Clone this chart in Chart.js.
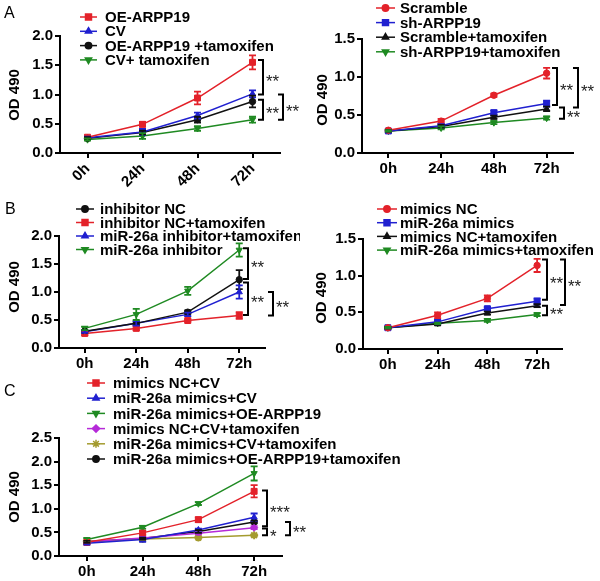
<!DOCTYPE html>
<html lang="en">
<head>
<meta charset="UTF-8">
<title>OD 490 time course</title>
<script src="https://cdn.jsdelivr.net/npm/chart.js"></script>
<style>
    body { margin: 0; background: #fff; }
    #wrap { position: relative; width: 600px; height: 581px; overflow: hidden; }
    canvas { position: absolute; }
</style>
</head>
<body>
<div id="wrap">
    <canvas id="cA1" style="left:0;top:0" width="300" height="190"></canvas>
    <canvas id="cA2" style="left:300px;top:0" width="300" height="190"></canvas>
    <canvas id="cB1" style="left:0;top:190px" width="300" height="182"></canvas>
    <canvas id="cB2" style="left:300px;top:190px" width="300" height="182"></canvas>
    <canvas id="cC" style="left:0;top:372px" width="600" height="209"></canvas>
</div>
<script>
// ---- data ----
const hours = ['0h', '24h', '48h', '72h'];

// panel A left
const a1Labels = ['OE-ARPP19', 'CV', 'OE-ARPP19 +tamoxifen', 'CV+ tamoxifen'];
const a1Means = [
    [0.27, 0.49, 0.94, 1.55],
    [0.26, 0.36, 0.64, 1.01],
    [0.25, 0.35, 0.57, 0.88],
    [0.23, 0.29, 0.42, 0.57]
];
const a1Errors = [
    [0.02, 0.04, 0.11, 0.12],
    [0.02, 0.05, 0.05, 0.06],
    [0.02, 0.03, 0.05, 0.10],
    [0.02, 0.05, 0.04, 0.05]
];
const a1Sig = [[1.59, 1.0, '**'], [0.91, 0.57, '**'], [1.0, 0.57, '**']];

// panel A right
const a2Labels = ['Scramble', 'sh-ARPP19', 'Scramble+tamoxifen', 'sh-ARPP19+tamoxifen'];
const a2Means = [
    [0.30, 0.42, 0.76, 1.05],
    [0.29, 0.36, 0.53, 0.65],
    [0.29, 0.35, 0.47, 0.58],
    [0.29, 0.33, 0.40, 0.46]
];
const a2Errors = [
    [0.01, 0.03, 0.02, 0.07],
    [0.01, 0.02, 0.03, 0.04],
    [0.01, 0.02, 0.02, 0.03],
    [0.01, 0.02, 0.02, 0.02]
];
const a2Sig = [[1.12, 0.63, '**'], [1.12, 0.60, '**'], [0.60, 0.45, '**']];

// panel B left
const b1Labels = ['inhibitor NC', 'inhibitor NC+tamoxifen', 'miR-26a inhibitor+tamoxifen', 'miR-26a inhibitor'];
const b1Means = [
    [0.30, 0.44, 0.64, 1.22],
    [0.26, 0.35, 0.49, 0.58],
    [0.29, 0.44, 0.60, 1.00],
    [0.35, 0.60, 1.02, 1.75]
];
const b1Errors = [
    [0.02, 0.03, 0.03, 0.17],
    [0.03, 0.03, 0.02, 0.06],
    [0.02, 0.04, 0.03, 0.12],
    [0.03, 0.10, 0.07, 0.12]
];
const b1Sig = [[1.78, 1.23, '**'], [1.17, 0.59, '**'], [1.0, 0.58, '**']];

// panel B right
const b2Labels = ['mimics NC', 'miR-26a mimics', 'mimics NC+tamoxifen', 'miR-26a mimics+tamoxifen'];
const b2Means = [
    [0.29, 0.46, 0.69, 1.14],
    [0.29, 0.37, 0.55, 0.65],
    [0.29, 0.34, 0.49, 0.59],
    [0.29, 0.35, 0.39, 0.47]
];
const b2Errors = [
    [0.01, 0.04, 0.04, 0.09],
    [0.01, 0.02, 0.02, 0.04],
    [0.01, 0.01, 0.02, 0.02],
    [0.01, 0.01, 0.02, 0.02]
];
const b2Sig = [[1.22, 0.67, '**'], [1.22, 0.60, '**'], [0.59, 0.46, '**']];

// panel C
const cLabels = ['mimics NC+CV', 'miR-26a mimics+CV', 'miR-26a mimics+OE-ARPP19',
    'mimics NC+CV+tamoxifen', 'miR-26a mimics+CV+tamoxifen', 'miR-26a mimics+OE-ARPP19+tamoxifen'];
const cMeans = [
    [0.29, 0.49, 0.77, 1.37],
    [0.27, 0.35, 0.55, 0.82],
    [0.35, 0.61, 1.11, 1.75],
    [0.30, 0.38, 0.48, 0.60],
    [0.31, 0.36, 0.39, 0.44],
    [0.30, 0.37, 0.52, 0.72]
];
const cErrors = [
    [0.03, 0.04, 0.05, 0.13],
    [0.03, 0.05, 0.03, 0.08],
    [0.03, 0.03, 0.03, 0.15],
    [0.02, 0.02, 0.02, 0.03],
    [0.01, 0.02, 0.02, 0.02],
    [0.02, 0.02, 0.03, 0.03]
];
const cSig = [[1.39, 0.63, '***'], [0.58, 0.44, '*'], [0.72, 0.44, '**']];

// ---- styles ----
const FONT = "'Liberation Sans', Arial, sans-serif";
const RED = '#e3222a', BLUE = '#2020d0', BLACK = '#111111', GREEN = '#1f8a22',
      PURPLE = '#b52ad8', OLIVE = '#a49b2f';
const TRI_DOWN = ['triangle', 180];
const RADIUS = { rect: 4.2, circle: 3.2, triangle: 3.6, rectRot: 3.6, star: 4 };

// draws error bars, legend, brackets, panel letter and y title
const decor = {
    id: 'decor',
    afterDatasetsDraw(chart, args, o) {
        const ctx = chart.ctx, y = chart.scales.y;
        ctx.save();
        chart.data.datasets.forEach((ds, di) => {
            const meta = chart.getDatasetMeta(di);
            ctx.strokeStyle = ds.borderColor;
            ctx.lineWidth = 1.8;
            meta.data.forEach((pt, i) => {
                const e = o.errors[di][i];
                const top = y.getPixelForValue(ds.data[i] + e);
                const bot = y.getPixelForValue(ds.data[i] - e);
                ctx.beginPath();
                ctx.moveTo(pt.x, top); ctx.lineTo(pt.x, bot);
                ctx.moveTo(pt.x - 3.5, top); ctx.lineTo(pt.x + 3.5, top);
                ctx.moveTo(pt.x - 3.5, bot); ctx.lineTo(pt.x + 3.5, bot);
                ctx.stroke();
            });
        });
        ctx.restore();
    },
    afterDraw(chart, args, o) {
        const ctx = chart.ctx, y = chart.scales.y;
        ctx.save();
        // legend
        ctx.font = 'bold 15px ' + FONT;
        ctx.textBaseline = 'middle';
        ctx.textAlign = 'left';
        chart.data.datasets.forEach((ds, i) => {
            const ly = o.legend.y0 + i * o.legend.dy;
            ctx.strokeStyle = ds.borderColor;
            ctx.lineWidth = 1.5;
            ctx.beginPath();
            ctx.moveTo(o.legend.x0, ly); ctx.lineTo(o.legend.x1, ly);
            ctx.stroke();
            ctx.fillStyle = ds.borderColor;
            Chart.helpers.drawPoint(ctx, {
                pointStyle: ds.pointStyle, rotation: ds.pointRotation || 0,
                radius: ds.pointRadius, borderWidth: 1
            }, (o.legend.x0 + o.legend.x1) / 2, ly);
            ctx.fillStyle = '#000';
            ctx.fillText(ds.label, o.legend.tx, ly + 1);
        });
        // significance brackets
        ctx.strokeStyle = '#000';
        ctx.fillStyle = '#222';
        ctx.lineWidth = 2;
        ctx.font = '17px ' + FONT;
        o.sig.forEach((s, i) => {
            const x = o.sigX[i];
            const ya = y.getPixelForValue(s[0]), yb = y.getPixelForValue(s[1]);
            ctx.beginPath();
            ctx.moveTo(x - 5, ya); ctx.lineTo(x, ya); ctx.lineTo(x, yb); ctx.lineTo(x - 5, yb);
            ctx.stroke();
            ctx.fillText(s[2], x + 3, (ya + yb) / 2 + 5);
        });
        // panel letter
        if (o.letter) {
            ctx.fillStyle = '#000';
            ctx.font = '16px ' + FONT;
            ctx.textBaseline = 'alphabetic';
            ctx.fillText(o.letter[0], o.letter[1], o.letter[2]);
        }
        // y title
        ctx.fillStyle = '#000';
        ctx.font = 'bold 15px ' + FONT;
        ctx.textAlign = 'center';
        ctx.textBaseline = 'middle';
        ctx.translate(o.yTitle[0], o.yTitle[1]);
        ctx.rotate(-Math.PI / 2);
        ctx.fillText('OD 490', 0, 0);
        ctx.restore();
    }
};

function makePanel(id, p) {
    const datasets = p.labels.map((lab, i) => {
        const shape = Array.isArray(p.shapes[i]) ? p.shapes[i][0] : p.shapes[i];
        return {
            label: lab,
            data: p.means[i],
            borderColor: p.colors[i],
            backgroundColor: p.colors[i],
            pointBackgroundColor: p.colors[i],
            pointBorderColor: p.colors[i],
            pointStyle: shape,
            pointRotation: Array.isArray(p.shapes[i]) ? p.shapes[i][1] : 0,
            pointRadius: RADIUS[shape],
            pointBorderWidth: shape === 'star' ? 2 : 1,
            borderWidth: 1.5,
            tension: 0
        };
    });
    new Chart(document.getElementById(id), {
        type: 'line',
        data: { labels: hours, datasets: datasets },
        options: {
            responsive: false,
            animation: false,
            layout: { padding: { top: p.area.top, right: p.area.right, left: 0, bottom: 0 } },
            plugins: {
                legend: { display: false },
                tooltip: { enabled: false },
                decor: {
                    errors: p.errors, sig: p.sig, sigX: p.sigX,
                    legend: p.legend, letter: p.letter, yTitle: p.yTitle
                }
            },
            scales: {
                x: {
                    type: 'category',
                    offset: true,
                    border: { color: '#000', width: 2 },
                    grid: { drawOnChartArea: false, offset: false, color: '#000', lineWidth: 2, tickLength: 5 },
                    ticks: {
                        color: '#000', font: { family: FONT, size: 15, weight: 'bold' },
                        padding: 2, autoSkip: false,
                        minRotation: p.rotate ? 45 : 0, maxRotation: p.rotate ? 45 : 0
                    },
                    afterFit(s) { s.height = p.area.bottom; }
                },
                y: {
                    min: 0, max: p.ymax,
                    border: { color: '#000', width: 2 },
                    grid: { drawOnChartArea: false, color: '#000', lineWidth: 2, tickLength: 5 },
                    ticks: {
                        stepSize: 0.5, color: '#000', padding: 2,
                        font: { family: FONT, size: 15, weight: 'bold' },
                        callback: v => v.toFixed(1)
                    },
                    afterFit(s) { s.width = p.area.left; }
                }
            }
        },
        plugins: [decor]
    });
}

makePanel('cA1', {
    labels: a1Labels, means: a1Means, errors: a1Errors, sig: a1Sig,
    colors: [RED, BLUE, BLACK, GREEN], shapes: ['rect', 'triangle', 'circle', TRI_DOWN],
    ymax: 2.0, rotate: true,
    area: { left: 60, top: 36, right: 20, bottom: 37 },
    sigX: [263, 263, 283],
    legend: { x0: 80, x1: 97, tx: 105, y0: 17, dy: 14.3 },
    letter: ['A', 4, 18], yTitle: [15, 95]
});

makePanel('cA2', {
    labels: a2Labels, means: a2Means, errors: a2Errors, sig: a2Sig,
    colors: [RED, BLUE, BLACK, GREEN], shapes: ['circle', 'rect', 'triangle', TRI_DOWN],
    ymax: 1.5,
    area: { left: 62, top: 39, right: 27, bottom: 37 },
    sigX: [257, 278, 264],
    legend: { x0: 76, x1: 95, tx: 100, y0: 8, dy: 14.6 },
    letter: null, yTitle: [23, 100]
});

makePanel('cB1', {
    labels: b1Labels, means: b1Means, errors: b1Errors, sig: b1Sig,
    colors: [BLACK, RED, BLUE, GREEN], shapes: ['circle', 'rect', 'triangle', TRI_DOWN],
    ymax: 2.0,
    area: { left: 59, top: 46, right: 35, bottom: 24 },
    sigX: [248, 248, 273],
    legend: { x0: 76, x1: 94, tx: 100, y0: 19, dy: 13.5 },
    letter: ['B', 5, 24], yTitle: [15, 97]
});

makePanel('cB2', {
    labels: b2Labels, means: b2Means, errors: b2Errors, sig: b2Sig,
    colors: [RED, BLUE, BLACK, GREEN], shapes: ['circle', 'rect', 'triangle', TRI_DOWN],
    ymax: 1.5,
    area: { left: 63, top: 49, right: 38, bottom: 23 },
    sigX: [247, 265, 247],
    legend: { x0: 77, x1: 97, tx: 100, y0: 19, dy: 13.7 },
    letter: null, yTitle: [22, 108]
});

makePanel('cC', {
    labels: cLabels, means: cMeans, errors: cErrors, sig: cSig,
    colors: [RED, BLUE, GREEN, PURPLE, OLIVE, BLACK],
    shapes: ['rect', 'triangle', TRI_DOWN, 'rectRot', 'star', 'circle'],
    ymax: 2.5,
    area: { left: 59, top: 66, right: 318, bottom: 25 },
    sigX: [267, 267, 290],
    legend: { x0: 87, x1: 105, tx: 113, y0: 11, dy: 15.2 },
    letter: ['C', 4, 24], yTitle: [15, 125]
});
</script>
</body>
</html>
